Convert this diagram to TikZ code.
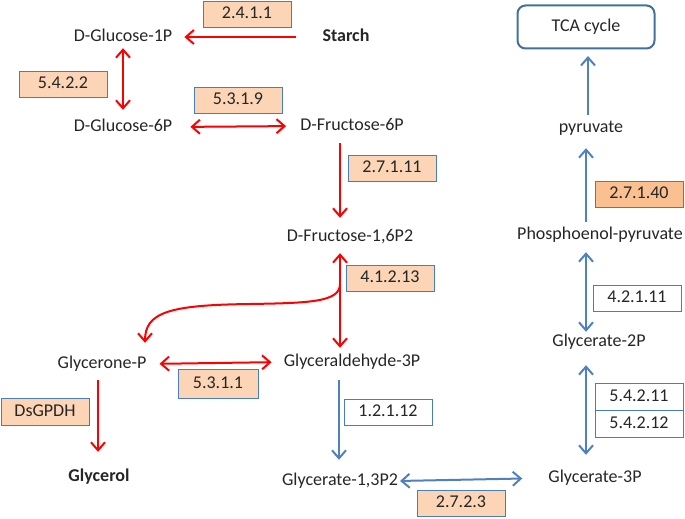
\documentclass[tikz,border=0pt]{standalone}
\usepackage{fontspec}
\setmainfont{Carlito}
\usetikzlibrary{arrows.meta}
\definecolor{redc}{HTML}{FF0000}
\definecolor{bluec}{HTML}{4F81BD}
\definecolor{boxline}{HTML}{4A7EBB}
\definecolor{peach}{HTML}{FBD5B5}
\definecolor{darkpeach}{HTML}{FAC090}
\definecolor{tcaline}{HTML}{41719C}
\definecolor{txt}{HTML}{262626}
\tikzset{
  x=1pt, y=-1pt,
  every node/.style={font=\fontsize{18}{20}\selectfont, text=txt},
  met/.style={inner sep=0pt, text height=12pt, text depth=3pt},
  metb/.style={met, font=\fontsize{18}{20}\selectfont\bfseries},
  ec/.style={draw=boxline, line width=0.8pt, fill=peach, minimum width=88pt, minimum height=26pt, inner sep=0pt, text height=12pt, text depth=3pt},
  ecw/.style={ec, fill=white},
  ecd/.style={ec, fill=darkpeach},
  tip/.style={-{Straight Barb[length=8pt,width=14pt]}},
  dtip/.style={{Straight Barb[length=8pt,width=14pt]}-{Straight Barb[length=8pt,width=14pt]}},
  redarr/.style={draw=redc, line width=2pt, tip},
  reddarr/.style={draw=redc, line width=2pt, dtip},
  bluearr/.style={draw=bluec, line width=2pt, tip},
  bluedarr/.style={draw=bluec, line width=2pt, dtip},
}
\begin{document}
\begin{tikzpicture}
\useasboundingbox (0,0) rectangle (685,519);
% metabolites
\node[met] (g1p) at (123,37) {D-Glucose-1P};
\node[metb] (starch) at (346,37) {Starch};
\node[met] (g6p) at (123,127) {D-Glucose-6P};
\node[met] (f6p) at (352,126) {D-Fructose-6P};
\node[met] (f16p) at (350,237) {D-Fructose-1,6P2};
\node[met] (gp) at (102,364) {Glycerone-P};
\node[met] (ga3p) at (352,362) {Glyceraldehyde-3P};
\node[metb] (glycerol) at (99,477) {Glycerol};
\node[met] (g13p) at (340,481) {Glycerate-1,3P2};
\node[met] (g3p) at (595,478) {Glycerate-3P};
\node[met] (g2p) at (599,342) {Glycerate-2P};
\node[met] (pep) at (600,235) {Phosphoenol-pyruvate};
\node[met] (pyr) at (591,128) {pyruvate};
\node[draw=tcaline, line width=2pt, rounded corners=8pt, fill=white, minimum width=137pt, minimum height=43pt, inner sep=0pt] (tca) at (586,27) {TCA cycle};
% enzymes
\node[ec] (e24111) at (247,14) {2.4.1.1};
\node[ec] (e5422) at (63,84) {5.4.2.2};
\node[ec] (e5319) at (238,100) {5.3.1.9};
\node[ec] (e27111) at (392,168) {2.7.1.11};
\node[ec] (e41213) at (390,278) {4.1.2.13};
\node[ec, minimum width=80pt, minimum height=29pt] (e5311) at (218,384) {5.3.1.1};
\node[ec, minimum height=27pt] (edsg) at (45,412) {DsGPDH};
\node[ecw] (e12112) at (388,412) {1.2.1.12};
\node[ec] (e2723) at (461,503) {2.7.2.3};
\node[ecw, minimum height=27pt] (e54211) at (639,396.5) {5.4.2.11};
\node[ecw, minimum height=27pt] (e54212) at (639,423.5) {5.4.2.12};
\node[ecw] (e42111) at (637,298) {4.2.1.11};
\node[ecd] (e27140) at (639,194) {2.7.1.40};
% red connectors
\draw[redarr, shorten <=26pt, shorten >=12pt] (starch.west) -- (g1p.east);
\draw[reddarr, shorten <=3.5pt, shorten >=9.5pt] (g1p.south) -- (g6p.north);
\draw[reddarr, shorten <=18pt, shorten >=14pt] (g6p.east) -- (f6p.west);
\draw[redarr, shorten <=9.5pt, shorten >=11.5pt] ([xshift=-12pt]f6p.south) -- ([xshift=-10pt]f16p.north);
\draw[reddarr, shorten <=8.5pt, shorten >=6.5pt] ([xshift=-10pt]f16p.south) -- ([xshift=-12pt]ga3p.north);
\coordinate (branch) at (340,284);
\draw[redarr, shorten >=13.5pt] (branch) .. controls (340,302) and (310,303) .. (250,304) .. controls (170,305) and (145,312) .. ([xshift=43pt]gp.north);
\draw[reddarr, shorten <=13pt, shorten >=12pt] (gp.east) -- (ga3p.west);
\draw[redarr, shorten <=8.5pt, shorten >=17.5pt] ([xshift=-4pt]gp.south) -- ([xshift=-1pt]glycerol.north);
% blue connectors
\draw[bluearr, shorten <=10.5pt, shorten >=13.5pt] ([xshift=-13pt]ga3p.south) -- ([xshift=-1pt]g13p.north);
\draw[bluedarr, shorten <=2pt, shorten >=26pt] (g13p.east) -- (g3p.west);
\draw[bluedarr, shorten <=15.5pt, shorten >=15.5pt] ([xshift=-9pt]g3p.north) -- ([xshift=-13pt]g2p.south);
\draw[bluedarr, shorten <=2.5pt, shorten >=9.5pt] ([xshift=-13pt]g2p.north) -- ([xshift=-14pt]pep.south);
\draw[bluearr, shorten <=5.5pt, shorten >=12.5pt] ([xshift=-14pt]pep.north) -- ([xshift=-5pt]pyr.south);
\draw[bluearr, shorten <=5.5pt, shorten >=6.5pt] ([xshift=-3pt]pyr.north) -- ([xshift=2pt]tca.south);
\end{tikzpicture}
\end{document}
